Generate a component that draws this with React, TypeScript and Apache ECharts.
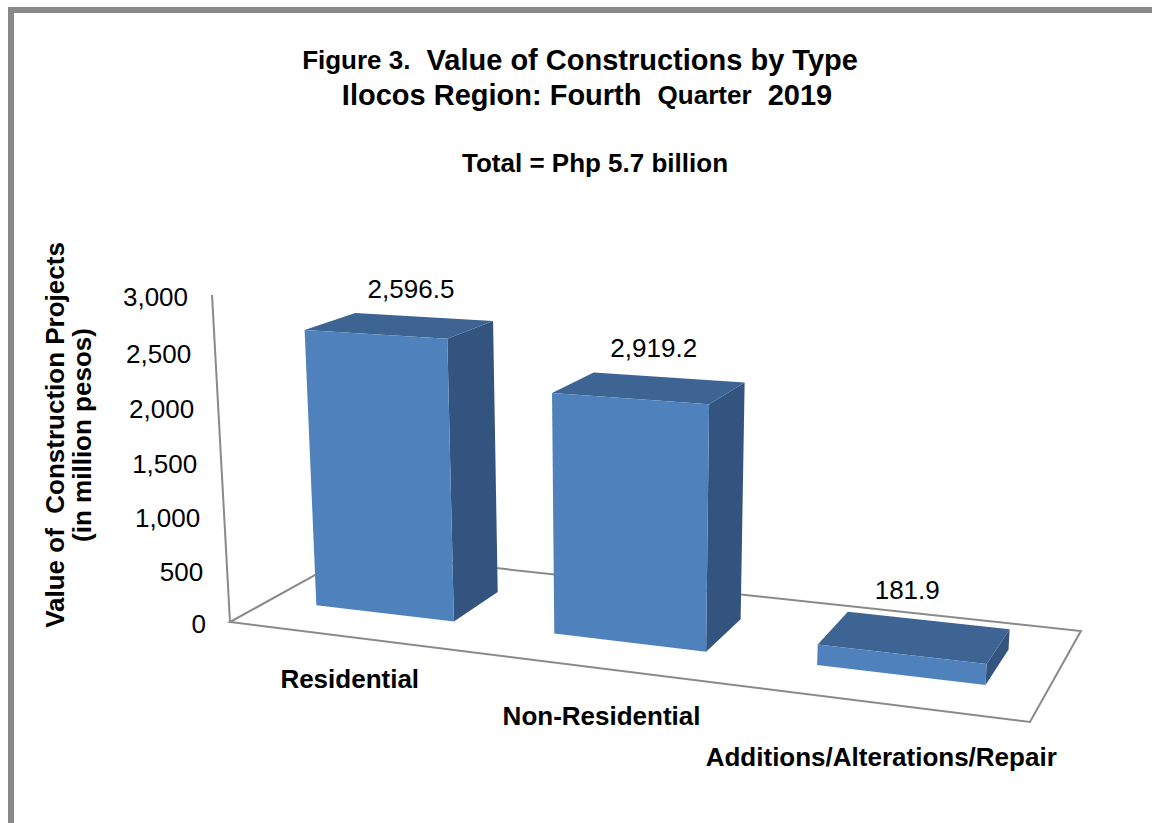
import React, { useEffect, useRef } from 'react';
import * as echarts from 'echarts';

// ---- data ----
const categories = ['Residential', 'Non-Residential', 'Additions/Alterations/Repair'];
// bar heights as drawn in the picture (million pesos)
const barHeights = [2596.5, 2180, 181.9];
// data labels as printed on the picture
const labelValues = [2596.5, 2919.2, 181.9];
const yTicks = [0, 500, 1000, 1500, 2000, 2500, 3000];
const yMin = 0;
const yMax = 3000;
const yInterval = 500;

const FONT = '"Liberation Sans", Arial, Helvetica, sans-serif';

// perspective camera: columns = category axis (X), value axis (Y), depth (Z), origin
const CAM = {
  x: [650.0, -27.3, 164.8, 230],
  y: [-5.1, -340.0, -7.0, 622],
  w: [-0.1456, -0.044, 0.1122, 1],
};
function project(X: number, Y: number, Z: number): number[] {
  const w = CAM.w[0] * X + CAM.w[1] * Y + CAM.w[2] * Z + CAM.w[3];
  return [
    (CAM.x[0] * X + CAM.x[1] * Y + CAM.x[2] * Z + CAM.x[3]) / w,
    (CAM.y[0] * X + CAM.y[1] * Y + CAM.y[2] * Z + CAM.y[3]) / w,
  ];
}

const BAR_FRAC = 0.59;
const Z_FRONT = 0.3;
const Z_BACK = 0.7;
const COL_FRONT = '#4F81BD';
const COL_TOP = '#3D6493';
const COL_SIDE = '#33547F';
const LINE_COL = '#8A8A8A';

function fmtLabel(v: number) {
  return v.toLocaleString('en-US', { minimumFractionDigits: 1, maximumFractionDigits: 1 });
}

function getFrac(params: any, api: any, xIdx: number, val: number) {
  const cs = params.coordSys;
  const p = api.coord([xIdx, val]);
  const p0 = api.coord([xIdx, yMin]);
  return {
    X: (p[0] - cs.x) / cs.width,
    Y: (p0[1] - p[1]) / cs.height,
    band: api.size([1, 0])[0] / cs.width,
  };
}

export default function App() {
  const ref = useRef<HTMLDivElement>(null);
  useEffect(() => {
    if (!ref.current) return;
    const chart = echarts.init(ref.current, undefined, { renderer: 'svg' });

    const floorSeries = {
      type: 'custom',
      silent: true,
      clip: false,
      data: [[0, yMax]],
      renderItem: (params: any, api: any) => {
        const { Y } = getFrac(params, api, 0, api.value(1));
        const pts = [project(0, 0, 0), project(0, 0, 1), project(1, 0, 1), project(1, 0, 0)];
        return {
          type: 'group',
          children: [
            {
              type: 'polygon',
              shape: { points: pts },
              style: { fill: 'none', stroke: LINE_COL, lineWidth: 2 },
            },
            {
              type: 'line',
              shape: {
                x1: project(0, 0, 0)[0], y1: project(0, 0, 0)[1],
                x2: project(0, Y, 0)[0], y2: project(0, Y, 0)[1],
              },
              style: { stroke: LINE_COL, lineWidth: 2 },
            },
          ],
        };
      },
    };

    const tickSeries = {
      type: 'custom',
      silent: true,
      clip: false,
      data: yTicks.map((v) => [0, v]),
      renderItem: (params: any, api: any) => {
        const v = api.value(1);
        const { Y } = getFrac(params, api, 0, v);
        const p = project(0, Y, 0);
        return {
          type: 'text',
          x: p[0] - 24,
          y: p[1] + 2,
          style: {
            text: v.toLocaleString('en-US'),
            font: `26px ${FONT}`,
            fill: '#000',
            align: 'right',
            verticalAlign: 'middle',
          },
        };
      },
    };

    const barSeries = {
      type: 'custom',
      silent: true,
      clip: false,
      data: barHeights.map((v, i) => [i, v, labelValues[i]]),
      renderItem: (params: any, api: any) => {
        const idx = api.value(0);
        const { X, Y, band } = getFrac(params, api, idx, api.value(1));
        const hw = (band * BAR_FRAC) / 2;
        const x0 = X - hw;
        const x1 = X + hw;
        const front = [project(x0, 0, Z_FRONT), project(x1, 0, Z_FRONT), project(x1, Y, Z_FRONT), project(x0, Y, Z_FRONT)];
        const side = [project(x1, 0, Z_FRONT), project(x1, 0, Z_BACK), project(x1, Y, Z_BACK), project(x1, Y, Z_FRONT)];
        const top = [project(x0, Y, Z_FRONT), project(x1, Y, Z_FRONT), project(x1, Y, Z_BACK), project(x0, Y, Z_BACK)];
        const lab = project(X, Y, 0.6);
        const cat = project(X, 0, 0);
        return {
          type: 'group',
          children: [
            { type: 'polygon', shape: { points: side }, style: { fill: COL_SIDE } },
            { type: 'polygon', shape: { points: top }, style: { fill: COL_TOP } },
            { type: 'polygon', shape: { points: front }, style: { fill: COL_FRONT } },
            {
              type: 'text',
              x: lab[0] - 20 * X * X,
              y: lab[1] - 30 - 10 * X,
              style: {
                text: fmtLabel(api.value(2)),
                font: `26px ${FONT}`,
                fill: '#000',
                align: 'center',
                verticalAlign: 'middle',
              },
            },
            {
              type: 'text',
              x: cat[0] + 3,
              y: cat[1] + 39 + 18 * X,
              style: {
                text: categories[idx],
                font: `bold 26px ${FONT}`,
                fill: '#000',
                align: 'center',
                verticalAlign: 'middle',
              },
            },
          ],
        };
      },
    };

    chart.setOption({
      animation: false,
      backgroundColor: '#ffffff',
      grid: { left: 0, top: 0, width: 600, height: 600, show: false },
      xAxis: { type: 'category', data: categories, show: false },
      yAxis: { type: 'value', min: yMin, max: yMax, interval: yInterval, show: false },
      graphic: [
        {
          type: 'rect',
          shape: { x: 11, y: 10, width: 1200, height: 900 },
          style: { fill: 'none', stroke: '#898989', lineWidth: 6 },
          silent: true,
        },
        {
          type: 'text',
          x: 580,
          y: 60,
          style: {
            text: '{a|Figure 3.}  {b|Value of Constructions by Type}',
            rich: {
              a: { font: `bold 26px ${FONT}`, fill: '#000' },
              b: { font: `bold 29px ${FONT}`, fill: '#000' },
            },
            font: `bold 29px ${FONT}`,
            fill: '#000',
            align: 'center',
            verticalAlign: 'middle',
          },
        },
        {
          type: 'text',
          x: 587,
          y: 95,
          style: {
            text: '{b|Ilocos Region: Fourth}  {a|Quarter}  {b|2019}',
            rich: {
              a: { font: `bold 26px ${FONT}`, fill: '#000' },
              b: { font: `bold 29px ${FONT}`, fill: '#000' },
            },
            font: `bold 29px ${FONT}`,
            fill: '#000',
            align: 'center',
            verticalAlign: 'middle',
          },
        },
        {
          type: 'text',
          x: 595,
          y: 163,
          style: {
            text: 'Total = Php 5.7 billion',
            font: `bold 26px ${FONT}`,
            fill: '#000',
            align: 'center',
            verticalAlign: 'middle',
          },
        },
        {
          type: 'text',
          x: 55,
          y: 435,
          rotation: Math.PI / 2,
          style: {
            text: 'Value of  Construction Projects',
            font: `bold 26px ${FONT}`,
            fill: '#000',
            align: 'center',
            verticalAlign: 'middle',
          },
        },
        {
          type: 'text',
          x: 82,
          y: 435,
          rotation: Math.PI / 2,
          style: {
            text: '(in million pesos)',
            font: `bold 26px ${FONT}`,
            fill: '#000',
            align: 'center',
            verticalAlign: 'middle',
          },
        },
      ],
      series: [floorSeries, barSeries, tickSeries],
    } as any);

    return () => chart.dispose();
  }, []);

  return (
    <div
      ref={ref}
      style={{ position: 'absolute', left: 0, top: 0, width: 1152, height: 823, background: '#fff' }}
    />
  );
}
